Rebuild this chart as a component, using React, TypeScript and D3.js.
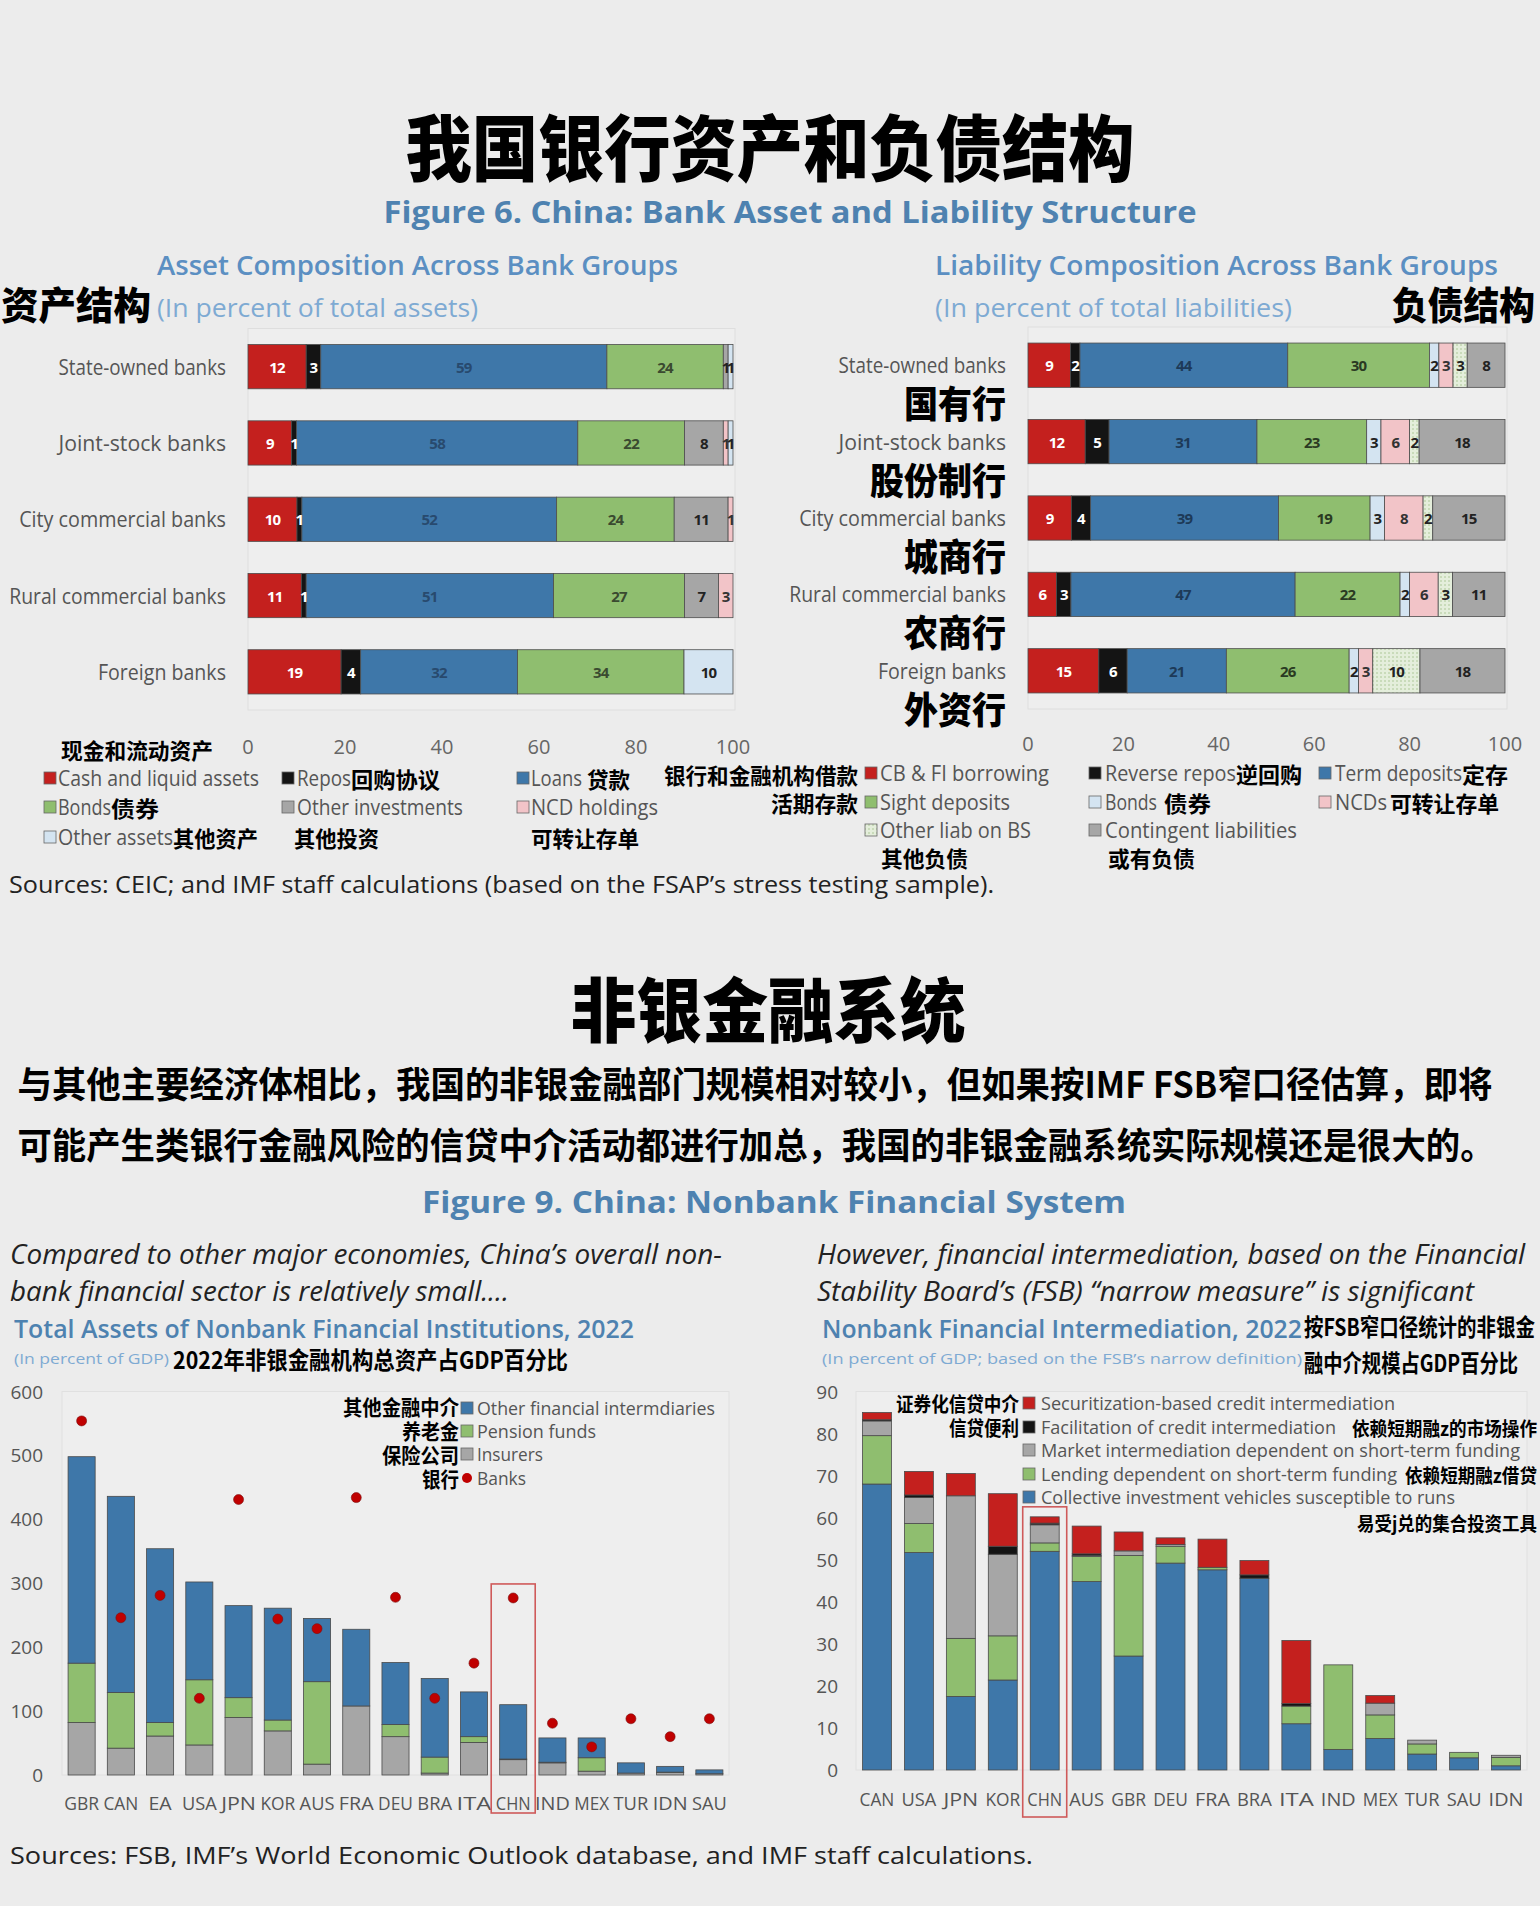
import React from 'react';
import * as d3 from 'd3';

// ---------- data: Figure 6 (bank asset / liability structure) ----------
const bankGroups = ['State-owned banks', 'Joint-stock banks', 'City commercial banks', 'Rural commercial banks', 'Foreign banks'];
const bankGroupsZh = ['国有行', '股份制行', '城商行', '农商行', '外资行'];

const assetKeys = ['Cash and liquid assets', 'Repos', 'Loans', 'Bonds', 'Other investments', 'NCD holdings', 'Other assets'];
const assetCash = [12, 9, 10, 11, 19];
const assetRepos = [3, 1, 1, 1, 4];
const assetLoans = [59, 58, 52, 51, 32];
const assetBonds = [24, 22, 24, 27, 34];
const assetOtherInv = [1, 8, 11, 7, 0];
const assetNcd = [0, 1, 1, 3, 0];
const assetOther = [1, 1, 0, 0, 10];

const liabKeys = ['CB & FI borrowing', 'Reverse repos', 'Term deposits', 'Sight deposits', 'Bonds', 'NCDs', 'Other liab on BS', 'Contingent liabilities'];
const liabCbFi = [9, 12, 9, 6, 15];
const liabRevRepo = [2, 5, 4, 3, 6];
const liabTerm = [44, 31, 39, 47, 21];
const liabSight = [30, 23, 19, 22, 26];
const liabBonds = [2, 3, 3, 2, 2];
const liabNcd = [3, 6, 8, 6, 3];
const liabOtherBS = [3, 2, 2, 3, 10];
const liabContingent = [8, 18, 15, 11, 18];

const pctTicks = [0, 20, 40, 60, 80, 100];

// ---------- data: Figure 9 (nonbank financial system) ----------
const nbfiCountries = ['GBR', 'CAN', 'EA', 'USA', 'JPN', 'KOR', 'AUS', 'FRA', 'DEU', 'BRA', 'ITA', 'CHN', 'IND', 'MEX', 'TUR', 'IDN', 'SAU'];
const nbfiKeys = ['Insurers', 'Pension funds', 'Other financial intermdiaries'];
const nbfiInsurers = [82, 42, 61, 47, 90, 69, 17, 108, 60, 3, 51, 24, 19, 6, 3, 4, 2];
const nbfiPension = [93, 87, 21, 102, 31, 17, 129, 0, 19, 25, 9, 1, 1, 21, 0, 0.5, 0];
const nbfiOfi = [323, 307, 272, 153, 144, 175, 99, 120, 97, 123, 70, 85, 38, 31, 16, 9, 6];
const nbfiBanks = [554, 246, 281, 120, 431, 244, 229, 434, 278, 120, 175, 277, 81, 44, 88, 60, 88];
const nbfiTicks = [0, 100, 200, 300, 400, 500, 600];

const nfiCountries = ['CAN', 'USA', 'JPN', 'KOR', 'CHN', 'AUS', 'GBR', 'DEU', 'FRA', 'BRA', 'ITA', 'IND', 'MEX', 'TUR', 'SAU', 'IDN'];
const nfiKeys = ['Collective investment vehicles susceptible to runs', 'Lending dependent on short-term funding', 'Market intermediation dependent on short-term funding', 'Facilitation of credit intermediation', 'Securitization-based credit intermediation'];
const nfiCiv = [68, 51.7, 17.5, 21.4, 52, 44.8, 27.1, 49.2, 47.6, 45.6, 11, 4.9, 7.5, 3.8, 2.9, 1];
const nfiLending = [11.5, 6.9, 13.8, 10.5, 2, 6, 23.9, 4, 0.6, 0, 4.2, 20.1, 5.6, 2.4, 1.3, 2];
const nfiMarket = [3.5, 6.2, 33.9, 19.4, 4.3, 0.2, 1.1, 0.4, 0, 0, 0, 0, 2.8, 0.9, 0, 0.5];
const nfiFacil = [0.3, 0.6, 0, 1.9, 0.4, 0.4, 0, 0, 0, 0.8, 0.6, 0, 0, 0, 0, 0];
const nfiSecur = [1.7, 5.6, 5.3, 12.5, 1.5, 6.6, 4.5, 1.6, 6.7, 3.4, 15, 0, 1.8, 0, 0, 0];
const nfiTicks = [0, 10, 20, 30, 40, 50, 60, 70, 80, 90];

// ---------- styles ----------
const W = 1540;
const H = 1906;
const BG = '#ececec';
const CJK = '"Noto Sans CJK SC", "Noto Sans", sans-serif';
const SANS = '"Open Sans", "Noto Sans", sans-serif';
const RED = '#c4201e';
const BLACK = '#141414';
const BLUE = '#3e77a9';
const GREEN = '#8fbe6f';
const GREY = '#a6a6a6';
const PINK = '#f2c4c8';
const LIGHT = '#d4e4f1';
const TITLE_BLUE = '#4e82b0';
const SUB_BLUE = '#5b8fc2';
const NOTE_BLUE = '#7eaad3';
const INK = '#555';

const assetColors = [RED, BLACK, BLUE, GREEN, GREY, PINK, LIGHT];
const assetInks = ['#fff', '#fff', '#284a6e', '#3a4a30', '#222', '#333', '#222'];
const liabColors = [RED, BLACK, BLUE, GREEN, LIGHT, PINK, 'url(#dots)', GREY];
const liabInks = ['#fff', '#fff', '#1d3a58', '#2a3a22', '#222', '#333', '#222', '#222'];
const nbfiColors = [GREY, GREEN, BLUE];
const nfiColors = [BLUE, GREEN, GREY, BLACK, RED];

// text helper: y is the vertical centre
const T = ({ x, y, s = 20, w, a = 'start', f = INK, wt = 400, fam = SANS, it = false, children }: any) => (
  <text
    x={x}
    y={y}
    fontSize={s}
    fill={f}
    fontWeight={wt}
    fontFamily={fam}
    fontStyle={it ? 'italic' : 'normal'}
    textAnchor={a}
    dominantBaseline="central"
    textLength={w}
    lengthAdjust={w ? 'spacingAndGlyphs' : undefined}
  >
    {children}
  </text>
);

const Key = ({ x, y, c, size = 12 }: any) => (
  <rect x={x} y={y - size / 2} width={size} height={size} fill={c} stroke="#666" strokeWidth={0.8} />
);

// horizontal 100% stacked bars
const HBars = ({ cols, keys, colors, inks, x0, x1, y0, y1, labelX, zh, tickY }: any) => {
  const rows = bankGroups.map((b, i) => {
    const r: any = { bank: b };
    keys.forEach((k: string, j: number) => (r[k] = cols[j][i]));
    return r;
  });
  const x = d3.scaleLinear().domain([0, 1]).range([x0, x1]);
  const y = d3.scaleBand().domain(bankGroups).range([y0, y1]).paddingInner(0.42).paddingOuter(0.21);
  const series = d3.stack().keys(keys).offset(d3.stackOffsetExpand)(rows);
  const bw = y.bandwidth();
  return (
    <g>
      <rect x={x0} y={y0} width={x1 - x0 + 2} height={y1 - y0} fill="#eeeeee" stroke="#dedede" />
      {series.map((s: any, k: number) =>
        s.map((d: any, i: number) => (
          <rect
            key={k + '-' + i}
            x={x(d[0])}
            y={y(bankGroups[i])}
            width={Math.max(0, x(d[1]) - x(d[0]))}
            height={bw}
            fill={colors[k]}
            stroke="#4d4d4d"
            strokeWidth={0.8}
          />
        )),
      )}
      {series.map((s: any, k: number) =>
        s.map((d: any, i: number) => {
          const v = rows[i][keys[k]];
          if (!(v > 0)) return null;
          return (
            <text
              key={'l' + k + '-' + i}
              x={(x(d[0]) + x(d[1])) / 2}
              y={(y(bankGroups[i]) as number) + bw / 2}
              fontSize={15}
              fontWeight={700}
              fontFamily={SANS}
              fill={inks[k]}
              textAnchor="middle"
              dominantBaseline="central"
              letterSpacing={-0.8}
            >
              {Math.round(v)}
            </text>
          );
        }),
      )}
      {bankGroups.map((b, i) => (
        <g key={b}>
          <T x={labelX} y={(y(b) as number) + bw / 2} s={21} a="end" f={INK} w={b.length * 9.85}>
            {b}
          </T>
          {zh && (
            <T x={labelX} y={(y(b) as number) + bw / 2 + 37} s={37} a="end" f="#000" wt={900} fam={CJK} w={zh[i].length * 34}>
              {zh[i]}
            </T>
          )}
        </g>
      ))}
      {pctTicks.map(t => (
        <T key={t} x={x(t / 100)} y={tickY} s={20} a="middle" f="#666">
          {t}
        </T>
      ))}
    </g>
  );
};

// vertical stacked bars
const VBars = ({ cats, cols, keys, colors, x0, x1, yBase, yTop, max, ticks, tickX, labelY, dots, box }: any) => {
  const rows = cats.map((c: string, i: number) => {
    const r: any = { cat: c };
    keys.forEach((k: string, j: number) => (r[k] = cols[j][i]));
    return r;
  });
  const x = d3.scaleBand().domain(cats).range([x0, x1]).paddingInner(0.31).paddingOuter(0.155);
  const y = d3.scaleLinear().domain([0, max]).range([yBase, yTop]);
  const series = d3.stack().keys(keys)(rows);
  const bw = x.bandwidth();
  const cx = (c: string) => (x(c) as number) + bw / 2;
  const hi = 'CHN';
  const hiIdx = cats.indexOf(hi);
  const hiTop = dots ? y(dots[hiIdx]) - 14 : y(d3.sum(cols, (c: number[]) => c[hiIdx])) - 10;
  return (
    <g>
      <rect x={x0} y={yTop} width={x1 - x0} height={yBase - yTop} fill="#eeeeee" stroke="#e0e0e0" />
      {ticks.map((t: number) => (
        <T key={t} x={tickX} y={y(t)} s={19} a="end" f={INK}>
          {t}
        </T>
      ))}
      {series.map((s: any, k: number) =>
        s.map((d: any, i: number) => (
          <rect
            key={k + '-' + i}
            x={x(cats[i])}
            y={y(d[1])}
            width={bw}
            height={Math.max(0, y(d[0]) - y(d[1]))}
            fill={colors[k]}
            stroke="#4a4a4a"
            strokeWidth={0.8}
          />
        )),
      )}
      {dots &&
        cats.map((c: string, i: number) => (
          <circle key={'d' + c} cx={cx(c)} cy={y(dots[i])} r={5} fill="#c00000" stroke="#7a1010" strokeWidth={0.6} />
        ))}
      {cats.map((c: string) => (
        <T key={'x' + c} x={cx(c)} y={labelY} s={18} a="middle" f={INK} w={c.length * 11.6}>
          {c}
        </T>
      ))}
      {box && <rect x={cx(hi) - 22} y={hiTop} width={44} height={box - hiTop} fill="none" stroke="#cf5a5a" strokeWidth={1.6} />}
    </g>
  );
};

export default function App() {
  return (
    <div style={{ position: 'absolute', left: 0, top: 0 }}>
      <svg width={W} height={H} viewBox={`0 0 ${W} ${H}`} style={{ display: 'block' }}>
        <defs>
          <pattern id="dots" width={4} height={4} patternUnits="userSpaceOnUse">
            <rect width={4} height={4} fill="#e4eedb" />
            <circle cx={1} cy={1} r={0.8} fill="#a8c391" />
          </pattern>
        </defs>
        <rect width={W} height={H} fill={BG} />

        {/* ---------- Figure 6 ---------- */}
        <T x={770} y={143} s={72} a="middle" f="#000" wt={900} fam={CJK} w={729}>
          我国银行资产和负债结构
        </T>
        <T x={790} y={211} s={30} a="middle" f={TITLE_BLUE} wt={700} w={813}>
          Figure 6. China: Bank Asset and Liability Structure
        </T>
        <T x={157} y={264} s={27} f={SUB_BLUE} wt={600} w={521}>
          Asset Composition Across Bank Groups
        </T>
        <T x={157} y={307} s={26} f={NOTE_BLUE} w={321}>
          (In percent of total assets)
        </T>
        <T x={1} y={302} s={38} f="#000" wt={900} fam={CJK} w={150}>
          资产结构
        </T>
        <T x={1498} y={264} s={27} a="end" f={SUB_BLUE} wt={600} w={563}>
          Liability Composition Across Bank Groups
        </T>
        <T x={935} y={307} s={26} f={NOTE_BLUE} w={357}>
          (In percent of total liabilities)
        </T>
        <T x={1535} y={302} s={38} a="end" f="#000" wt={900} fam={CJK} w={143}>
          负债结构
        </T>

        <HBars
          cols={[assetCash, assetRepos, assetLoans, assetBonds, assetOtherInv, assetNcd, assetOther]}
          keys={assetKeys}
          colors={assetColors}
          inks={assetInks}
          x0={248}
          x1={733}
          y0={328.5}
          y1={710}
          labelX={226}
          tickY={746}
        />
        <HBars
          cols={[liabCbFi, liabRevRepo, liabTerm, liabSight, liabBonds, liabNcd, liabOtherBS, liabContingent]}
          keys={liabKeys}
          colors={liabColors}
          inks={liabInks}
          x0={1028}
          x1={1505}
          y0={327}
          y1={709}
          labelX={1006}
          zh={bankGroupsZh}
          tickY={743}
        />

        {/* asset legend */}
        <T x={61} y={749} s={22} f="#000" wt={700} fam={CJK} w={152}>现金和流动资产</T>
        <Key x={44} y={778} c={RED} />
        <T x={58} y={778} s={21} w={201}>Cash and liquid assets</T>
        <Key x={282} y={778} c={BLACK} />
        <T x={297} y={778} s={21} w={54}>Repos</T>
        <T x={351} y={778} s={22} f="#000" wt={700} fam={CJK} w={89}>回购协议</T>
        <Key x={517} y={778} c={BLUE} />
        <T x={531} y={778} s={21} w={51}>Loans</T>
        <T x={587} y={778} s={22} f="#000" wt={700} fam={CJK} w={43}>贷款</T>
        <Key x={44} y={807} c={GREEN} />
        <T x={58} y={807} s={21} w={53}>Bonds</T>
        <T x={111} y={807} s={22} f="#000" wt={700} fam={CJK} w={48}>债券</T>
        <Key x={282} y={807} c={GREY} />
        <T x={297} y={807} s={21} w={166}>Other investments</T>
        <Key x={517} y={807} c={PINK} />
        <T x={531} y={807} s={21} w={127}>NCD holdings</T>
        <Key x={44} y={837} c={LIGHT} />
        <T x={58} y={837} s={21} w={115}>Other assets</T>
        <T x={173} y={837} s={22} f="#000" wt={700} fam={CJK} w={85}>其他资产</T>
        <T x={294} y={837} s={22} f="#000" wt={700} fam={CJK} w={85}>其他投资</T>
        <T x={531} y={837} s={22} f="#000" wt={700} fam={CJK} w={108}>可转让存单</T>

        {/* liability legend */}
        <T x={858} y={774} s={22} a="end" f="#000" wt={700} fam={CJK} w={194}>银行和金融机构借款</T>
        <T x={858} y={802} s={22} a="end" f="#000" wt={700} fam={CJK} w={87}>活期存款</T>
        <Key x={865} y={773} c={RED} />
        <T x={880} y={773} s={21} w={169}>CB &amp; FI borrowing</T>
        <Key x={1089} y={773} c={BLACK} />
        <T x={1105} y={773} s={21} w={131}>Reverse repos</T>
        <T x={1236} y={773} s={22} f="#000" wt={700} fam={CJK} w={66}>逆回购</T>
        <Key x={1319} y={773} c={BLUE} />
        <T x={1335} y={773} s={21} w={127}>Term deposits</T>
        <T x={1508} y={773} s={22} a="end" f="#000" wt={700} fam={CJK} w={46}>定存</T>
        <Key x={865} y={802} c={GREEN} />
        <T x={880} y={802} s={21} w={130}>Sight deposits</T>
        <Key x={1089} y={802} c={LIGHT} />
        <T x={1105} y={802} s={21} w={52}>Bonds</T>
        <T x={1164} y={802} s={22} f="#000" wt={700} fam={CJK} w={47}>债券</T>
        <Key x={1319} y={802} c={PINK} />
        <T x={1335} y={802} s={21} w={52}>NCDs</T>
        <T x={1499} y={802} s={22} a="end" f="#000" wt={700} fam={CJK} w={109}>可转让存单</T>
        <Key x={865} y={830} c="url(#dots)" />
        <T x={880} y={830} s={21} w={151}>Other liab on BS</T>
        <Key x={1089} y={830} c={GREY} />
        <T x={1105} y={830} s={21} w={192}>Contingent liabilities</T>
        <T x={881} y={857} s={22} f="#000" wt={700} fam={CJK} w={87}>其他负债</T>
        <T x={1108} y={857} s={22} f="#000" wt={700} fam={CJK} w={87}>或有负债</T>

        <T x={9} y={884} s={23} f="#222" w={985}>
          Sources: CEIC; and IMF staff calculations (based on the FSAP’s stress testing sample).
        </T>

        {/* ---------- Figure 9 ---------- */}
        <T x={768} y={1006} s={70} a="middle" f="#000" wt={900} fam={CJK} w={395}>
          非银金融系统
        </T>
        <T x={755} y={1082} s={36} a="middle" f="#000" wt={700} fam={CJK} w={1475}>
          与其他主要经济体相比，我国的非银金融部门规模相对较小，但如果按IMF FSB窄口径估算，即将
        </T>
        <T x={756} y={1143} s={36} a="middle" f="#000" wt={700} fam={CJK} w={1477}>
          可能产生类银行金融风险的信贷中介活动都进行加总，我国的非银金融系统实际规模还是很大的。
        </T>
        <T x={774} y={1201} s={30} a="middle" f={TITLE_BLUE} wt={700} w={704}>
          Figure 9. China: Nonbank Financial System
        </T>

        <T x={10} y={1253} s={28} f="#222" it w={712}>
          Compared to other major economies, China’s overall non-
        </T>
        <T x={10} y={1290} s={28} f="#222" it w={499}>
          bank financial sector is relatively small....
        </T>
        <T x={14} y={1328} s={25} f={TITLE_BLUE} wt={600} w={620}>
          Total Assets of Nonbank Financial Institutions, 2022
        </T>
        <T x={14} y={1358} s={15} f={NOTE_BLUE} w={155}>
          (In percent of GDP)
        </T>
        <T x={173} y={1358} s={24} f="#000" wt={700} fam={CJK} w={395}>
          2022年非银金融机构总资产占GDP百分比
        </T>

        <T x={1525} y={1253} s={28} a="end" f="#222" it w={708}>
          However, financial intermediation, based on the Financial
        </T>
        <T x={1474} y={1290} s={28} a="end" f="#222" it w={657}>
          Stability Board’s (FSB) “narrow measure” is significant
        </T>
        <T x={822} y={1328} s={25} f={TITLE_BLUE} wt={600} w={480}>
          Nonbank Financial Intermediation, 2022
        </T>
        <T x={1535} y={1325} s={24} a="end" f="#000" wt={700} fam={CJK} w={231}>
          按FSB窄口径统计的非银金
        </T>
        <T x={822} y={1358} s={15} f={NOTE_BLUE} w={480}>
          (In percent of GDP; based on the FSB’s narrow definition)
        </T>
        <T x={1518} y={1361} s={24} a="end" f="#000" wt={700} fam={CJK} w={214}>
          融中介规模占GDP百分比
        </T>

        <VBars
          cats={nbfiCountries}
          cols={[nbfiInsurers, nbfiPension, nbfiOfi]}
          keys={nbfiKeys}
          colors={nbfiColors}
          x0={62}
          x1={729}
          yBase={1775}
          yTop={1391.5}
          max={600}
          ticks={nbfiTicks}
          tickX={43}
          labelY={1803}
          dots={nbfiBanks}
          box={1813}
        />
        <VBars
          cats={nfiCountries}
          cols={[nfiCiv, nfiLending, nfiMarket, nfiFacil, nfiSecur]}
          keys={nfiKeys}
          colors={nfiColors}
          x0={856}
          x1={1527}
          yBase={1770}
          yTop={1391.5}
          max={90}
          ticks={nfiTicks}
          tickX={838}
          labelY={1799}
          box={1817}
        />

        {/* nonbank assets legend */}
        <T x={459} y={1406} s={21} a="end" f="#000" wt={700} fam={CJK} w={116}>其他金融中介</T>
        <Key x={461} y={1408} c={BLUE} />
        <T x={477} y={1408} s={19} w={238}>Other financial intermdiaries</T>
        <T x={459} y={1430} s={21} a="end" f="#000" wt={700} fam={CJK} w={57}>养老金</T>
        <Key x={461} y={1431} c={GREEN} />
        <T x={477} y={1431} s={19} w={119}>Pension funds</T>
        <T x={459} y={1454} s={21} a="end" f="#000" wt={700} fam={CJK} w={77}>保险公司</T>
        <Key x={461} y={1454} c={GREY} />
        <T x={477} y={1454} s={19} w={66}>Insurers</T>
        <T x={459} y={1478} s={21} a="end" f="#000" wt={700} fam={CJK} w={37}>银行</T>
        <circle cx={467} cy={1478} r={5} fill="#c00000" />
        <T x={477} y={1478} s={19} w={49}>Banks</T>

        {/* nonbank intermediation legend */}
        <T x={1019} y={1403} s={20} a="end" f="#000" wt={700} fam={CJK} w={123}>证券化信贷中介</T>
        <Key x={1023} y={1403} c={RED} />
        <T x={1041} y={1403} s={18} w={354}>Securitization-based credit intermediation</T>
        <T x={1019} y={1427} s={20} a="end" f="#000" wt={700} fam={CJK} w={70}>信贷便利</T>
        <Key x={1023} y={1427} c={BLACK} />
        <T x={1041} y={1427} s={18} w={295}>Facilitation of credit intermediation</T>
        <T x={1537} y={1427} s={19} a="end" f="#000" wt={700} fam={CJK} w={185}>依赖短期融z的市场操作</T>
        <Key x={1023} y={1450} c={GREY} />
        <T x={1520} y={1450} s={18} a="end" w={479}>Market intermediation dependent on short-term funding</T>
        <Key x={1023} y={1474} c={GREEN} />
        <T x={1041} y={1474} s={18} w={356}>Lending dependent on short-term funding</T>
        <T x={1537} y={1474} s={19} a="end" f="#000" wt={700} fam={CJK} w={132}>依赖短期融z借贷</T>
        <Key x={1023} y={1497} c={BLUE} />
        <T x={1041} y={1497} s={18} w={414}>Collective investment vehicles susceptible to runs</T>
        <T x={1537} y={1522} s={19} a="end" f="#000" wt={700} fam={CJK} w={180}>易受j兑的集合投资工具</T>

        <T x={10} y={1855} s={23} f="#222" w={1023}>
          Sources: FSB, IMF’s World Economic Outlook database, and IMF staff calculations.
        </T>
      </svg>
    </div>
  );
}
